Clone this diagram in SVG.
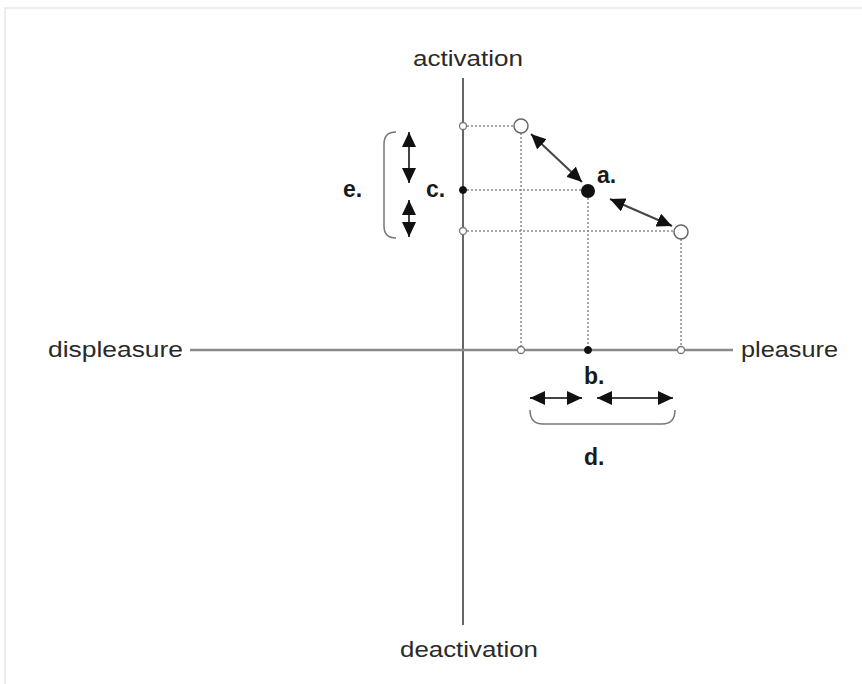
<svg xmlns="http://www.w3.org/2000/svg" width="862" height="684" viewBox="0 0 862 684">
<style>
.t{font-family:"Liberation Sans",Arial,sans-serif;font-size:22px;fill:#2a2a2a}
.l{font-family:"Liberation Sans",Arial,sans-serif;font-size:23px;font-weight:bold;fill:#1a1a1a}
.dot{stroke:#8a8a8a;stroke-width:1.5;stroke-dasharray:2 2;fill:none}
.arr{stroke:#444;stroke-width:2;fill:none;marker-start:url(#ah);marker-end:url(#ah)}
.br{stroke:#777;stroke-width:1.5;fill:none}
.so{fill:#fff;stroke:#777;stroke-width:1.3}
.sf{fill:#111;stroke:#111;stroke-width:1}
.bo{fill:#fff;stroke:#666;stroke-width:1.5}
</style>
<defs>
<marker id="ah" viewBox="0 0 15 14" refX="15" refY="7" markerWidth="15" markerHeight="14" markerUnits="userSpaceOnUse" orient="auto-start-reverse">
<path d="M0,0 L15,7 L0,14 z" fill="#111"/>
</marker>
</defs>
<rect width="862" height="684" fill="#fff"/>
<path d="M5,700 L5,8 L870,8" fill="none" stroke="#e6e6e6" stroke-width="1.5"/>
<g id="axes">
<line x1="463" y1="78" x2="463" y2="625" stroke="#333" stroke-width="1.5"/>
<line x1="190" y1="350" x2="733" y2="350" stroke="#8a8a8a" stroke-width="2.5"/>
</g>
<g id="axis-labels">
<text class="t" x="468" y="66" text-anchor="middle" textLength="110" lengthAdjust="spacingAndGlyphs">activation</text>
<text class="t" x="469" y="657" text-anchor="middle" textLength="138" lengthAdjust="spacingAndGlyphs">deactivation</text>
<text class="t" x="48" y="357" textLength="135" lengthAdjust="spacingAndGlyphs">displeasure</text>
<text class="t" x="741" y="357" textLength="97" lengthAdjust="spacingAndGlyphs">pleasure</text>
</g>
<g id="connectors">
<line class="dot" x1="463" y1="126" x2="514" y2="126"/>
<line class="dot" x1="463" y1="190" x2="581" y2="190"/>
<line class="dot" x1="463" y1="231" x2="674" y2="231"/>
<line class="dot" x1="521" y1="133" x2="521" y2="350"/>
<line class="dot" x1="588" y1="198" x2="588" y2="350"/>
<line class="dot" x1="681" y1="239" x2="681" y2="350"/>
<line class="arr" x1="531" y1="134" x2="582" y2="182"/>
<line class="arr" x1="610" y1="199" x2="672" y2="226"/>
<line class="arr" x1="409" y1="132" x2="409" y2="183"/>
<line class="arr" x1="409" y1="200" x2="409" y2="237"/>
<line class="arr" x1="530" y1="398" x2="582" y2="398"/>
<line class="arr" x1="597" y1="398" x2="673" y2="398"/>
<path class="br" d="M396,132 Q384,132 384,144 L384,226 Q384,238 396,238"/>
<path class="br" d="M530,410 Q530,424 543,424 L662,424 Q675,424 675,410"/>
</g>
<g id="axis-points">
<circle class="so" cx="463" cy="126" r="3.5"/>
<circle class="sf" cx="463" cy="190" r="3.5"/>
<circle class="so" cx="463" cy="231" r="3.5"/>
<circle class="so" cx="521" cy="350" r="3.5"/>
<circle class="sf" cx="588" cy="350" r="3.5"/>
<circle class="so" cx="681" cy="350" r="3.5"/>
</g>
<g id="node-upper"><circle class="bo" cx="521" cy="126" r="7"/></g>
<g id="node-a"><circle cx="588" cy="191" r="7" fill="#111"/><text class="l" x="597" y="183">a.</text></g>
<g id="node-lower"><circle class="bo" cx="681" cy="232" r="7"/></g>
<g id="label-b"><text class="l" x="584" y="384">b.</text></g>
<g id="label-c"><text class="l" x="426" y="197">c.</text></g>
<g id="label-d"><text class="l" x="584" y="465">d.</text></g>
<g id="label-e"><text class="l" x="343" y="197">e.</text></g>
</svg>
